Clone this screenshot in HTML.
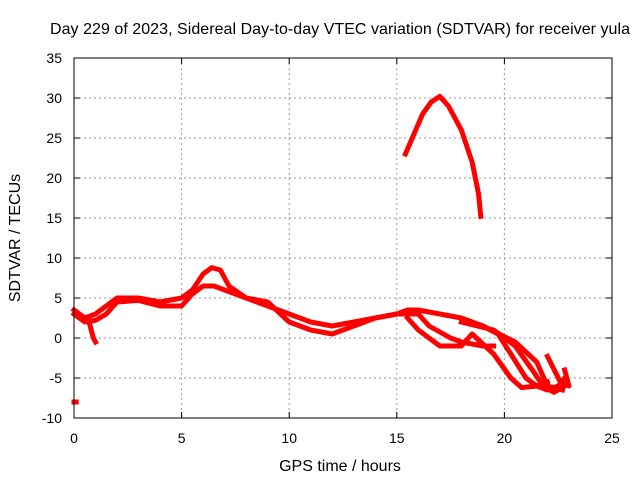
<!DOCTYPE html>
<html><head><meta charset="utf-8"><style>
body{margin:0;background:#fff;}
svg{display:block;font-family:"Liberation Sans",sans-serif;}
</style></head><body>
<svg id="chart" width="640" height="480">
<text x="340" y="34" font-size="16" text-anchor="middle" textLength="580">Day 229 of 2023, Sidereal Day-to-day VTEC variation (SDTVAR) for receiver yula</text>
<text x="340" y="471" font-size="16" text-anchor="middle">GPS time / hours</text>
<text transform="translate(20,238) rotate(-90)" font-size="16" text-anchor="middle">SDTVAR / TECUs</text>
<g id="grid"></g><g id="marks"></g>
<rect x="74" y="58" width="538" height="360" fill="none" stroke="#000" stroke-width="1"/>
</svg>
<script>
const xTicks=[0,5,10,15,20,25];
const yTicks=[-10,-5,0,5,10,15,20,25,30,35];
const seriesA=[[0,3.5],[0.5,2.5],[1,3],[1.5,4],[2,5],[3,5],[4,4.5],[5,5],[5.5,6],[6,8],[6.4,8.8],[6.8,8.5],[7.2,6.5],[8,5],[9,4],[10,3],[11,2],[12,1.5],[13,2],[14,2.5],[15,3],[15.5,3.5],[16,3.5],[17,3],[18,2.5],[19,1.5],[19.7,0.5],[20.3,-2],[21,-5],[21.5,-6],[22,-6.5],[22.5,-6],[22.8,-5]];
const seriesB=[[0,3],[0.5,2],[1,2.2],[1.5,3],[2,4.5],[3,4.7],[4,4],[5,4],[5.5,5.5],[6,6.5],[6.5,6.5],[7,6],[8,5],[9,4.5],[10,2],[11,1],[12,0.5],[13,1.5],[14,2.5],[15,3],[16,3],[16.5,1.5],[17.5,0],[18,-0.5],[19,-1],[19.5,-1]];
const seriesC=[[15.5,2.5],[16,1],[16.5,0],[17,-1],[18,-1],[18.5,0.5],[19.5,-2],[20.3,-5],[20.8,-6.2],[21.5,-6],[22,-5.5]];
const seriesD=[[18,2],[19.5,1],[20.5,-1],[21.3,-4],[21.8,-6],[22.3,-6.8],[22.8,-6]];
const seriesE=[[19,1.5],[20.5,-0.5],[21.5,-3],[22,-6],[22.7,-6.5]];
const seriesF=[[22,-2.3],[22.6,-5.5],[23,-6],[22.8,-4]];
const seriesG=[[0.7,2],[0.9,0],[1,-0.5]];
const seriesH=[[0,-8],[0.1,-8]];
const seriesTop=[[15.4,23],[15.8,25.5],[16.2,28],[16.6,29.5],[17,30.2],[17.4,29],[18,26],[18.5,22],[18.8,18],[18.9,15.2]];
const X=v=>74+v*538/25, Y=v=>418-(v+10)*8;
const ns="http://www.w3.org/2000/svg";
const grid=document.getElementById('grid'),marks=document.getElementById('marks');
function mk(t,a,p){const e=document.createElementNS(ns,t);for(const k in a)e.setAttribute(k,a[k]);p.appendChild(e);return e;}
xTicks.forEach(t=>{
 if(t>0&&t<25){const l=mk('line',{x1:X(t),x2:X(t),y1:58,y2:418,stroke:'#999','stroke-dasharray':'2,3'},grid);
 
 }
 mk('line',{x1:X(t),x2:X(t),y1:418,y2:412,stroke:'#000'},grid);mk('line',{x1:X(t),x2:X(t),y1:58,y2:64,stroke:'#000'},grid);
 const s=mk('text',{x:X(t),y:443,'font-size':14,'text-anchor':'middle'},grid);s.textContent=t;
 
 
});
yTicks.forEach(t=>{
 if(t>-10&&t<35){const l=mk('line',{x1:74,x2:612,y1:Y(t),y2:Y(t),stroke:'#999','stroke-dasharray':'2,3'},grid);
 
 }
 mk('line',{x1:74,x2:80,y1:Y(t),y2:Y(t),stroke:'#000'},grid);mk('line',{x1:612,x2:606,y1:Y(t),y2:Y(t),stroke:'#000'},grid);
 const s=mk('text',{x:62,y:Y(t)+5,'font-size':14,'text-anchor':'end'},grid);s.textContent=t;
 
 
});
[seriesA,seriesB,seriesC,seriesD,seriesE,seriesF,seriesG,seriesH,seriesTop].forEach(s=>{
 const p=mk('polyline',{points:s.map(d=>X(d[0])+','+Y(d[1])).join(' '),fill:'none',stroke:'#f00','stroke-width':5,'stroke-linejoin':'round','stroke-linecap':'square'},marks);
 
 
});
</script>
</body></html>
